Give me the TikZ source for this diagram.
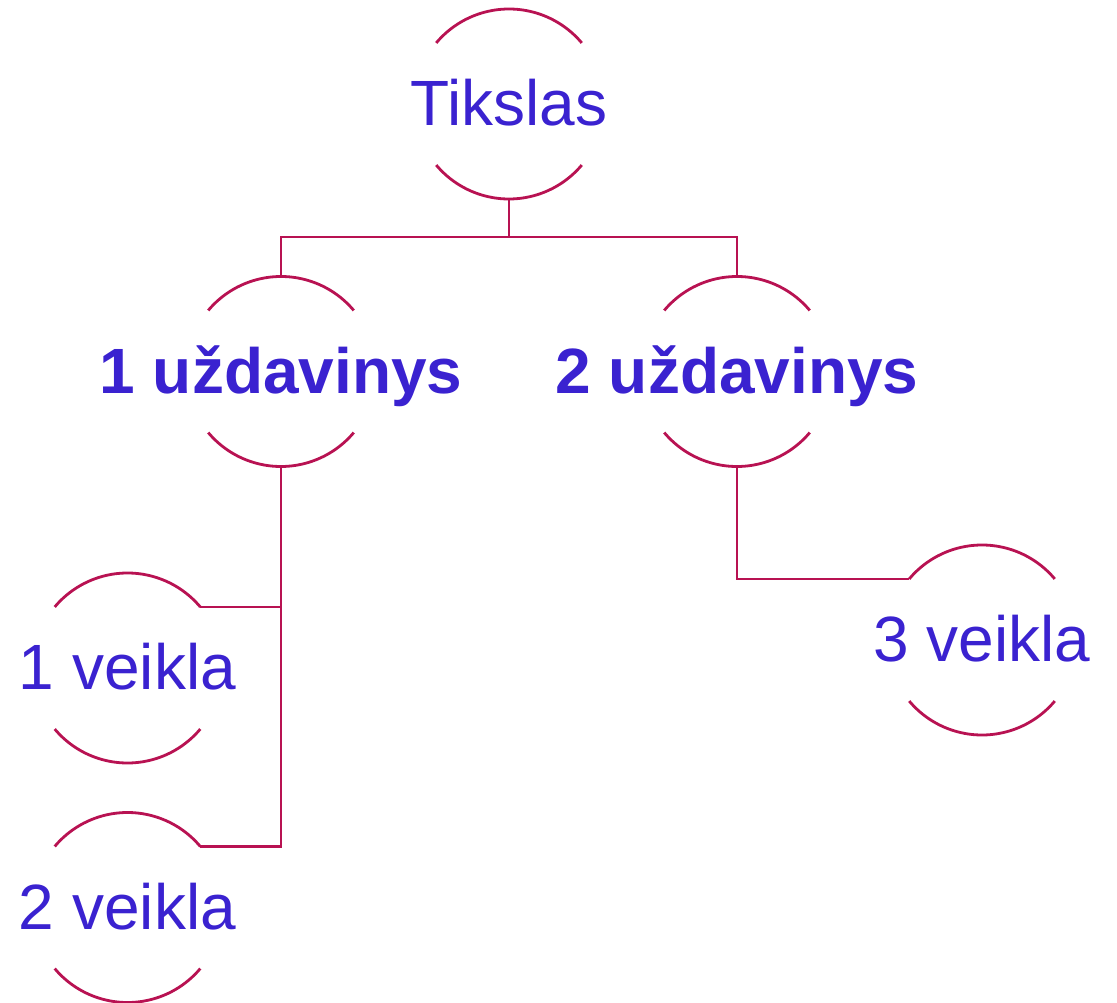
\documentclass[tikz,border=0pt]{standalone}
\usepackage{fontspec}
\setmainfont{Liberation Sans}
\definecolor{linecol}{RGB}{184,18,82}
\definecolor{txtcol}{RGB}{58,34,208}
\begin{document}
\begin{tikzpicture}[x=1pt,y=1pt,
  ring/.style={circle, minimum size=190pt, inner sep=0pt, outer sep=0pt},
  arcline/.style={draw=linecol, line width=2.8pt},
  conn/.style={draw=linecol, line width=2.8pt},
  txt/.style={text=txtcol, anchor=base, inner sep=0pt, font=\fontsize{64}{72}\selectfont},
  btxt/.style={txt, font=\fontsize{64}{72}\selectfont\bfseries}]
\useasboundingbox (0,0) rectangle (1117,-1003);
% rings
\node[ring] (t)  at (509,-104)   {};
\node[ring] (u1) at (281,-371.5) {};
\node[ring] (u2) at (737,-371.5) {};
\node[ring] (v1) at (127.5,-668) {};
\node[ring] (v2) at (127.5,-907.5) {};
\node[ring] (v3) at (982,-640)   {};
% labels
\node[txt]  (tl)  at ([yshift=-21.5pt]t.center)  {Tikslas};
\node[btxt] (u1l) at ([yshift=-21.5pt]u1.center) {1 uždavinys};
\node[btxt] (u2l) at ([yshift=-21.5pt]u2.center) {2 uždavinys};
\node[txt]  (v1l) at ([yshift=-21.5pt]v1.center) {1 veikla};
\node[txt]  (v2l) at ([yshift=-21.5pt]v2.center) {2 veikla};
\node[txt]  (v3l) at ([yshift=-21.5pt]v3.center) {3 veikla};
% arcs
\foreach \n in {t,u1,u2,v1,v2,v3}{
  \draw[arcline] (\n.40) arc[start angle=40, end angle=140, radius=95pt];
  \draw[arcline] (\n.220) arc[start angle=220, end angle=320, radius=95pt];
}
% connectors
\coordinate (bus) at (509,-237);
\draw[conn] (t.south) -- (bus);
\draw[conn] (u1.north) |- (bus) -| (u2.north);
\draw[conn] (u1.south) |- (v1.40);
\draw[conn] (u1.south) |- (v2.40);
\draw[conn] (u2.south) |- (v3.140);
\end{tikzpicture}
\end{document}
